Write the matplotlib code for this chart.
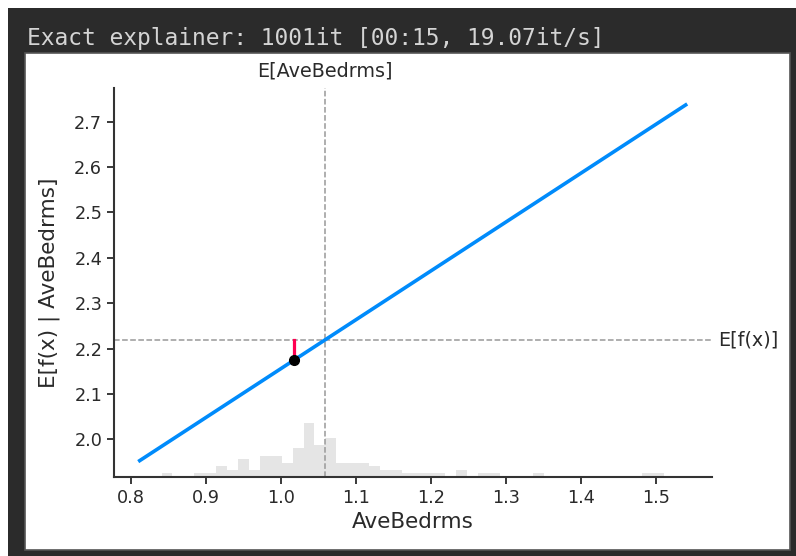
import numpy as np
import matplotlib.pyplot as plt
from matplotlib.patches import Rectangle
from matplotlib.transforms import blended_transform_factory

# partial dependence of the model output on AveBedrms
pd_x = [0.812, 1.540]
pd_y = [1.953, 2.737]

expected_x = 1.059      # E[AveBedrms]
expected_fx = 2.219     # E[f(x)]

sample_x = 1.018
sample_fx = 2.175

# histogram of AveBedrms (50 bins over the plotted range)
hist_range = (0.812, 1.540)
hist_counts = [0, 0, 1, 0, 0, 1, 1, 3, 2, 5,
               2, 6, 6, 4, 8, 15, 9, 11, 4, 4,
               4, 3, 2, 2, 1, 1, 1, 1, 0, 2,
               0, 1, 1, 0, 0, 0, 1, 0, 0, 0,
               0, 0, 0, 0, 0, 0, 1, 1, 0, 0]

header = "Exact explainer: 1001it [00:15, 19.07it/s]"

W, H = 796, 556
fig = plt.figure(figsize=(W / 100, H / 100), dpi=100)
fig.patch.set_facecolor("white")

# notebook output cell: dark frame with the white plot panel inside
fig.patches.append(Rectangle((8 / W, 0), 1 - 8 / W, 1 - 8 / H, transform=fig.transFigure,
                             facecolor="#2b2b2b", edgecolor="none", zorder=-3))
fig.patches.append(Rectangle((25 / W, 1 - 550 / H), 765 / W, 497 / H, transform=fig.transFigure,
                             facecolor="white", edgecolor="#555555", linewidth=1.2, zorder=-2))
fig.text(27 / W, 1 - 38 / H, header, color="#d4d4d4", fontsize=16.5,
         family="DejaVu Sans Mono", va="center", ha="left")

ax = fig.add_axes([114 / W, 1 - 477 / H, 598 / W, 389 / H])
ax.set_facecolor("none")
ax.set_xlim(0.7777, 1.5751)
ax.set_ylim(1.9169, 2.7743)

# histogram on a twin axis so it sits along the bottom
ax2 = ax.twinx()
edges = np.linspace(hist_range[0], hist_range[1], len(hist_counts) + 1)
ax2.bar(edges[:-1], hist_counts, width=np.diff(edges), align="edge",
        color="black", alpha=0.1, linewidth=0)
ax2.set_ylim(0, 109)
ax2.set_yticks([])
ax2.set_facecolor("none")
for s in ax2.spines.values():
    s.set_visible(False)
ax2.set_zorder(0)
ax.set_zorder(1)

ax.axvline(expected_x, color="#999999", linestyle="--", linewidth=1.1, zorder=1)
ax.plot([ax.get_xlim()[0], ax.get_xlim()[1]], [expected_fx, expected_fx],
        color="#999999", linestyle="--", linewidth=1.1, zorder=1)
ax.plot(pd_x, pd_y, color="#008bfb", linewidth=2.6, zorder=3)
ax.plot([sample_x, sample_x], [sample_fx, expected_fx], color="#ff0051",
        linewidth=2.3, zorder=4)
ax.plot([sample_x], [sample_fx], "o", color="black", markersize=7, zorder=5)

ax.set_xticks([0.8, 0.9, 1.0, 1.1, 1.2, 1.3, 1.4, 1.5])
ax.set_yticks([2.0, 2.1, 2.2, 2.3, 2.4, 2.5, 2.6, 2.7])
ax.tick_params(labelsize=12.7, colors="#2a2a2a", length=5, width=1.3)
ax.set_xlabel("AveBedrms", fontsize=15.5, color="#2a2a2a")
ax.set_ylabel("E[f(x) | AveBedrms]", fontsize=15.5, color="#2a2a2a", labelpad=10)
for side in ("top", "right"):
    ax.spines[side].set_visible(False)
for side in ("left", "bottom"):
    ax.spines[side].set_linewidth(1.5)
    ax.spines[side].set_color("#333333")

# labels for the expected values
tr = blended_transform_factory(ax.transData, ax.transAxes)
ax.text(expected_x, 1.02, "E[AveBedrms]", transform=tr, ha="center", va="bottom",
        fontsize=13.8, color="#2a2a2a")
tr2 = blended_transform_factory(ax.transAxes, ax.transData)
ax.text(1.01, expected_fx, "E[f(x)]", transform=tr2, ha="left", va="center",
        fontsize=13.8, color="#2a2a2a")

fig.savefig("out.png", dpi=100)
